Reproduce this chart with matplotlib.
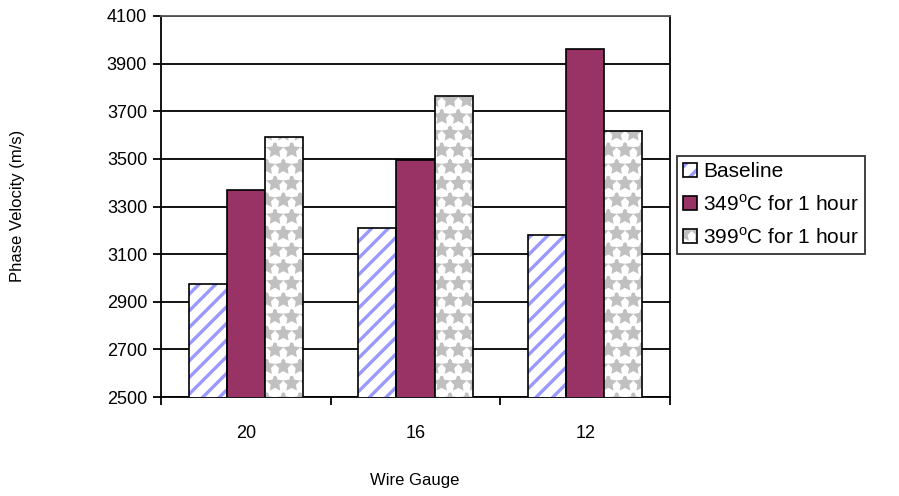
import numpy as np
import matplotlib.pyplot as plt

plt.rcParams['font.family'] = ['Liberation Sans', 'DejaVu Sans']
plt.rcParams['mathtext.fontset'] = 'custom'
plt.rcParams['mathtext.rm'] = 'Liberation Sans'
plt.rcParams['hatch.linewidth'] = 2.4

# wire gauge groups and phase velocity (m/s)
gauges = ['20', '16', '12']
baseline = [2975, 3210, 3180]
heat_349 = [3370, 3497, 3962]
heat_399 = [3593, 3762, 3615]
series_names = ['Baseline', r'349$^{\mathrm{o}}$C for 1 hour', r'399$^{\mathrm{o}}$C for 1 hour']
yticks = list(range(2500, 4101, 200))

fig = plt.figure(figsize=(8.99, 4.96), dpi=100)
ax = fig.add_axes([161/899, 1 - 397/496, (670 - 161)/899, (397 - 16)/496])

x = np.arange(len(gauges))
w = 0.224

def hatched_bars(xpos, vals, hatch, hcolor, hlw):
    # pattern layer (hatch takes the edge colour), then a black outline on top
    fill = ax.bar(xpos, vals, w, facecolor='white', edgecolor=hcolor,
                  linewidth=0, hatch=hatch, zorder=3)
    for p in fill:
        if hasattr(p, 'set_hatch_linewidth'):
            p.set_hatch_linewidth(hlw)
    edge = ax.bar(xpos, vals, w, facecolor='none', edgecolor='black',
                  linewidth=1.2, zorder=4)
    return fill, edge

f1, e1 = hatched_bars(x - w, baseline, '//', '#9999FF', 2.4)
b2 = ax.bar(x, heat_349, w, facecolor='#993366', edgecolor='black', linewidth=1.2, zorder=3)
f3, e3 = hatched_bars(x + w, heat_399, '*', '#C0C0C0', 2.2)

ax.set_ylim(2500, 4100)
ax.set_xlim(-0.5, 2.5)
ax.set_yticks(yticks)
ax.set_yticklabels([str(v) for v in yticks], fontsize=13)
ax.yaxis.grid(True, color='black', linewidth=1.3, zorder=0)
ax.set_axisbelow(True)
ax.tick_params(axis='y', length=6, width=1.3, direction='out', pad=4)

ax.set_xticks(x)
ax.set_xticklabels(gauges, fontsize=13)
ax.set_xticks([-0.5, 0.5, 1.5, 2.5], minor=True)
ax.tick_params(axis='x', which='major', length=0, pad=20)
ax.tick_params(axis='x', which='minor', length=6, width=1.3, direction='out')

for s in ax.spines.values():
    s.set_linewidth(1.3)
    s.set_color('black')
ax.spines['top'].set_color('#555555')

fig.text(18/899, 1 - 206/496, 'Phase Velocity (m/s)', rotation=90,
         ha='center', va='center', fontsize=12)
fig.text(415/899, 1 - 480/496, 'Wire Gauge', ha='center', va='center', fontsize=12)

handles = [(f1[0], e1[0]), b2[0], (f3[0], e3[0])]
leg = fig.legend(handles, series_names, loc='upper left',
                 bbox_to_anchor=(677/899, 1 - 156/496), fontsize=15,
                 frameon=True, fancybox=False, edgecolor='black',
                 handlelength=0.65, handleheight=0.65, handletextpad=0.3,
                 borderpad=0.3, labelspacing=0.6, borderaxespad=0)
leg.get_frame().set_linewidth(1.3)

fig.savefig('out.png', dpi=100)
